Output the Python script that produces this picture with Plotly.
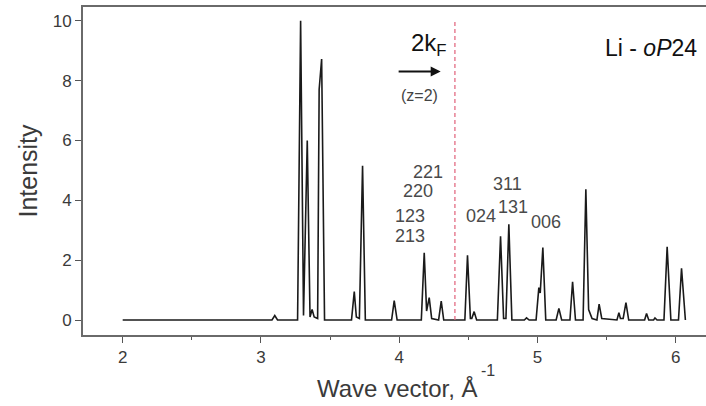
import plotly.graph_objects as go

# Diffraction profile vertices (wave vector, intensity)
wave_vector = [
    2.00, 3.08, 3.10, 3.12, 3.265, 3.287, 3.308, 3.335, 3.355, 3.37, 3.385, 3.41,
    3.421, 3.439, 3.46, 3.655, 3.675, 3.69, 3.712, 3.735, 3.755,
    3.945, 3.964, 3.985, 4.16, 4.181, 4.198, 4.217, 4.235, 4.285, 4.304, 4.322,
    4.475, 4.494, 4.515, 4.525, 4.542, 4.56, 4.71, 4.733, 4.755, 4.772, 4.793, 4.815,
    4.905, 4.921, 4.94, 4.99, 5.01, 5.02, 5.039, 5.06, 5.135, 5.155, 5.175,
    5.235, 5.254, 5.275, 5.33, 5.350, 5.37, 5.38, 5.395, 5.43, 5.446, 5.465,
    5.575, 5.589, 5.60, 5.62, 5.64, 5.66, 5.775, 5.789, 5.805, 5.84, 5.85, 5.865,
    5.915, 5.938, 5.965, 5.98, 6.02, 6.042, 6.065, 6.07,
]
intensity = [
    0.00, 0.00, 0.15, 0.00, 0.00, 10.0, 0.15, 6.0, 0.10, 0.35, 0.10, 0.05,
    7.7, 8.72, 0.00, 0.00, 0.95, 0.10, 0.05, 5.15, 0.00,
    0.00, 0.65, 0.00, 0.00, 2.25, 0.30, 0.75, 0.05, 0.00, 0.63, 0.00,
    0.00, 2.16, 0.05, 0.05, 0.28, 0.00, 0.00, 2.80, 0.05, 0.05, 3.20, 0.00,
    0.00, 0.07, 0.00, 0.00, 1.08, 0.90, 2.42, 0.00, 0.00, 0.39, 0.00,
    0.00, 1.28, 0.00, 0.00, 4.37, 0.35, 0.20, 0.05, 0.00, 0.53, 0.05,
    0.00, 0.24, 0.05, 0.05, 0.58, 0.00, 0.00, 0.22, 0.00, 0.00, 0.07, 0.00,
    0.00, 2.45, 0.00, 0.00, 0.00, 1.73, 0.00, 0.00,
]

# 2k_F marker position
kf2 = 4.403
kf2_line_y = [0.0, 9.97]

# Reflection labels (text, x, y in data units)
hkl_text = ["221", "220", "123", "213", "024", "311", "131", "006"]
hkl_x = [4.21, 4.135, 4.08, 4.08, 4.59, 4.78, 4.82, 5.06]
hkl_y = [4.93, 4.30, 3.48, 2.81, 3.46, 4.55, 3.77, 3.27]

x_ticks = [2, 3, 4, 5, 6]
y_ticks = [0, 2, 4, 6, 8, 10]

FONT = "Liberation Sans, Arial, sans-serif"
TXT = "#3a3a3a"

fig = go.Figure()
fig.add_trace(go.Scatter(x=wave_vector, y=intensity, mode="lines",
                         line=dict(color="#1a1a1a", width=1.6), showlegend=False,
                         hoverinfo="skip"))
fig.add_trace(go.Scatter(x=[kf2, kf2], y=kf2_line_y, mode="lines",
                         line=dict(color="#e0607a", width=1.2, dash="4px,3px"),
                         showlegend=False, hoverinfo="skip"))

for t, xx, yy in zip(hkl_text, hkl_x, hkl_y):
    fig.add_annotation(x=xx, y=yy, text=t, showarrow=False,
                       font=dict(family=FONT, size=18, color="#4a4a4a"))

# 2k_F label, arrow and (z=2)
fig.add_annotation(x=4.215, y=9.21, text="2k<sub>F</sub>", showarrow=False,
                   font=dict(family=FONT, size=24, color="#111"))
fig.add_annotation(x=4.30, y=8.3, ax=3.985, ay=8.3, xref="x", yref="y",
                   axref="x", ayref="y", text="", showarrow=True,
                   arrowhead=2, arrowsize=1.0, arrowwidth=2, arrowcolor="#111")
fig.add_annotation(x=4.15, y=7.5, text="(z=2)", showarrow=False,
                   font=dict(family=FONT, size=16, color="#444"))
fig.add_annotation(x=6.169, y=9.1, text="Li - <i>oP</i>24", showarrow=False,
                   xanchor="right",
                   font=dict(family=FONT, size=23, color="#111"))

# x axis title with superscript
fig.add_annotation(x=0.505, y=-0.162, xref="paper", yref="paper",
                   text="Wave vector, Å", showarrow=False, yanchor="middle",
                   font=dict(family=FONT, size=24, color=TXT))
fig.add_annotation(x=4.64, y=-0.107, xref="x", yref="paper",
                   text="-1", showarrow=False, yanchor="middle",
                   font=dict(family=FONT, size=16, color=TXT))

fig.update_layout(
    width=706, height=406,
    margin=dict(l=83, r=0, t=7, b=71),
    paper_bgcolor="white", plot_bgcolor="white",
    font=dict(family=FONT, color=TXT),
    xaxis=dict(range=[1.713, 6.219], tickvals=x_ticks, ticks="outside",
               ticklen=6, tickwidth=1.2, tickcolor="#555",
               minor=dict(dtick=0.5, tick0=2, ticks="outside", ticklen=3,
                          tickcolor="#555"),
               showline=True, linecolor="#6a6a6a", linewidth=2, mirror=True,
               showgrid=False, zeroline=False,
               tickfont=dict(size=17, color=TXT, family=FONT)),
    yaxis=dict(range=[-0.501, 10.458], tickvals=y_ticks, ticks="outside",
               ticklen=6, tickwidth=1.2, tickcolor="#555",
               showline=True, linecolor="#6a6a6a", linewidth=2, mirror=False,
               showgrid=False, zeroline=False,
               tickfont=dict(size=17, color=TXT, family=FONT),
               title=dict(text="Intensity", standoff=8,
                          font=dict(size=25, color=TXT, family=FONT))),
)

fig.write_html("out.html")
